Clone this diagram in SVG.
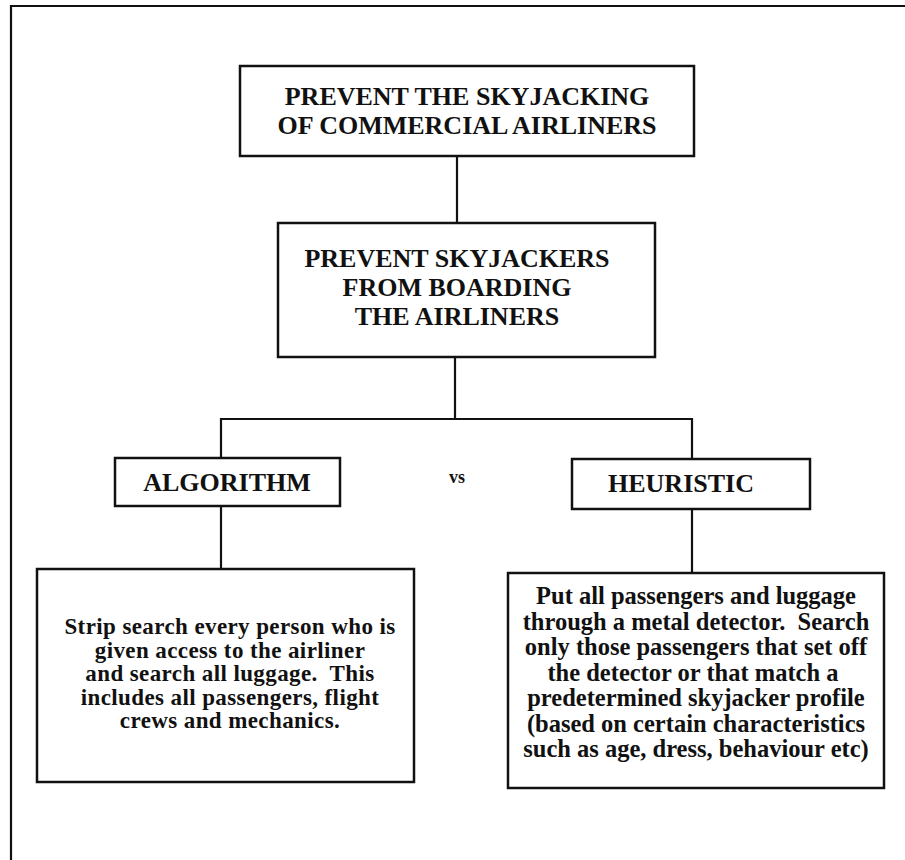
<svg xmlns="http://www.w3.org/2000/svg" width="905" height="860" viewBox="0 0 905 860">
  <style>
    .box { fill: #ffffff; stroke: #111111; stroke-width: 2.5; }
    .wire { fill: none; stroke: #111111; stroke-width: 2.2; }
    .frame { fill: none; stroke: #111111; stroke-width: 2.2; }
    .head { font-family: "Liberation Serif", "Times New Roman", serif; font-weight: bold; font-size: 26px; fill: #111111; text-anchor: middle; }
    .body { font-family: "Liberation Serif", "Times New Roman", serif; font-weight: bold; font-size: 24.5px; fill: #111111; text-anchor: middle; white-space: pre; }
    .body.tight { font-size: 23px; letter-spacing: 0.4px; }
    .vs { font-family: "Liberation Serif", "Times New Roman", serif; font-weight: bold; font-size: 18px; fill: #111111; text-anchor: middle; }
  </style>

  <rect width="905" height="860" fill="#ffffff"/>

  <!-- page frame: left and top rules -->
  <path class="frame" d="M11,860 V6 H905"/>

  <!-- connectors -->
  <g id="connectors">
    <path class="wire" d="M457,156 V223"/>
    <path class="wire" d="M455,357 V419"/>
    <path class="wire" d="M221,458 V419 H692 V459"/>
    <path class="wire" d="M221,506 V569"/>
    <path class="wire" d="M692,509 V573"/>
  </g>

  <g id="goal">
    <rect class="box" x="240" y="66" width="454" height="90"/>
    <text class="head" x="467" y="105">PREVENT THE SKYJACKING</text>
    <text class="head" x="467" y="134">OF COMMERCIAL AIRLINERS</text>
  </g>

  <g id="subgoal">
    <rect class="box" x="278" y="223" width="377" height="134"/>
    <text class="head" x="457" y="267">PREVENT SKYJACKERS</text>
    <text class="head" x="457" y="296">FROM BOARDING</text>
    <text class="head" x="457" y="325">THE AIRLINERS</text>
  </g>

  <g id="algorithm">
    <rect class="box" x="115" y="458" width="225" height="48"/>
    <text class="head" x="227" y="491">ALGORITHM</text>
  </g>

  <g id="versus">
    <text class="vs" x="457" y="483">vs</text>
  </g>

  <g id="heuristic">
    <rect class="box" x="572" y="459" width="238" height="50"/>
    <text class="head" x="681" y="492">HEURISTIC</text>
  </g>

  <g id="algorithm-detail">
    <rect class="box" x="37" y="569" width="377" height="213"/>
    <text class="body tight" x="230" y="634">Strip search every person who is</text>
    <text class="body tight" x="230" y="657.5">given access to the airliner</text>
    <text class="body tight" x="230" y="681">and search all luggage.  This</text>
    <text class="body tight" x="230" y="704.5">includes all passengers, flight</text>
    <text class="body tight" x="230" y="728">crews and mechanics.</text>
  </g>

  <g id="heuristic-detail">
    <rect class="box" x="508" y="573" width="376" height="215"/>
    <text class="body" x="696" y="604">Put all passengers and luggage</text>
    <text class="body" x="696" y="629.5">through a metal detector.  Search</text>
    <text class="body" x="696" y="655">only those passengers that set off</text>
    <text class="body" x="696" y="680.5">the detector or that match a </text>
    <text class="body" x="696" y="706">predetermined skyjacker profile</text>
    <text class="body" x="696" y="731.5">(based on certain characteristics</text>
    <text class="body" x="696" y="757">such as age, dress, behaviour etc)</text>
  </g>
</svg>
